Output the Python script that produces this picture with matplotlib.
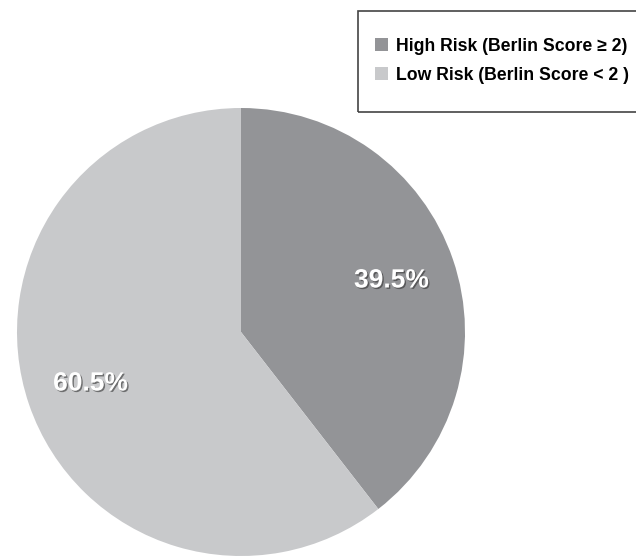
import matplotlib
matplotlib.use('Agg')
import matplotlib.pyplot as plt
import matplotlib.patheffects as pe
from matplotlib.patches import Rectangle

labels = ['High Risk (Berlin Score \u2265 2)', 'Low Risk (Berlin Score < 2 )']
shares = [39.5, 60.5]
colors = ['#939497', '#c8c9cb']

plt.rcParams['font.family'] = ['Liberation Sans Narrow', 'Liberation Sans', 'DejaVu Sans']

fig = plt.figure(figsize=(6.36, 5.57), dpi=100)
ax = fig.add_axes([0, 0, 1, 1])

# axes in pixel units so the pie sits where it does in the original
wedges, texts, autotexts = ax.pie(
    shares, colors=colors, startangle=90, counterclock=False,
    center=(241, 225), radius=224, autopct='%1.1f%%', pctdistance=0.71,
    textprops=dict(color='white', fontsize=19, fontweight='bold'))

for t in autotexts:
    t.set_path_effects([pe.withSimplePatchShadow(offset=(1, -1), shadow_rgbFace='#333333', alpha=0.6)])

ax.set_xlim(0, 636)
ax.set_ylim(0, 557)
ax.set_aspect('equal')
ax.axis('off')

# legend box drawn by hand, runs off the right edge like the original
fig.patches.append(Rectangle((358 / 636, 1 - 112 / 557), 0.5, 101 / 557, transform=fig.transFigure,
                             fill=False, edgecolor='#444444', linewidth=1.2))
leg = ax.legend(wedges, labels, loc='upper left', bbox_to_anchor=(375 / 636, 1 - 38 / 557),
                frameon=False, handlelength=0.75, handleheight=0.75, handletextpad=0.45,
                borderpad=0, labelspacing=0.66, prop=dict(size=12.7, weight='bold'),
                borderaxespad=0)

plt.savefig('out.png', dpi=100)
